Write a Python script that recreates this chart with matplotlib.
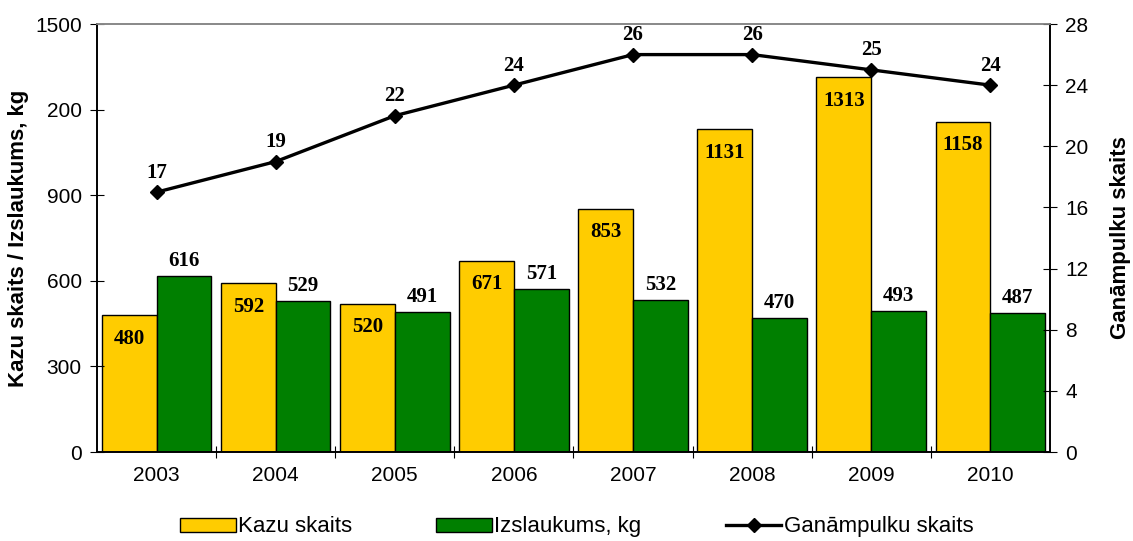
import numpy as np
import matplotlib
matplotlib.use("Agg")
import matplotlib.pyplot as plt

years = ["2003", "2004", "2005", "2006", "2007", "2008", "2009", "2010"]
kazu = [480, 592, 520, 671, 853, 1131, 1313, 1158]
izslaukums = [616, 529, 491, 571, 532, 470, 493, 487]
ganampulki = [17, 19, 22, 24, 26, 26, 25, 24]
left_ticks = [0, 300, 600, 900, 1200, 1500]
left_labels = ["0", "300", "600", "900", "200", "1500"]

plt.rcParams["font.family"] = ["Liberation Sans", "DejaVu Sans"]

fig = plt.figure(figsize=(11.33, 5.41), dpi=100)
ax = fig.add_axes([0.0856, 0.1645, 0.8411, 0.7911])
ax2 = ax.twinx()

x = np.arange(len(years))
w = 0.46
b1 = ax.bar(x - w / 2, kazu, w, color="#FFCC00", edgecolor="black", linewidth=1.0,
            label="Kazu skaits")
b2 = ax.bar(x + w / 2, izslaukums, w, color="#007F00", edgecolor="black", linewidth=1.0,
            label="Izslaukums, kg")

lab_font = dict(family=["Liberation Serif", "DejaVu Serif"], fontweight="bold", fontsize=15)
for xi, v in zip(x, kazu):
    ax.annotate(str(v), (xi - w / 2, v), xytext=(0, -17), textcoords="offset points",
                ha="center", va="center", **lab_font)
for xi, v in zip(x, izslaukums):
    ax.annotate(str(v), (xi + w / 2, v), xytext=(0, 11), textcoords="offset points",
                ha="center", va="center", **lab_font)

ln, = ax2.plot(x, ganampulki, color="black", marker="D", markersize=7, linewidth=2.4,
               label="Ganāmpulku skaits")
for xi, v in zip(x, ganampulki):
    ax2.annotate(str(v), (xi, v), xytext=(0, 14), textcoords="offset points",
                 ha="center", va="center", **lab_font)

ax.set_xlim(-0.5, len(years) - 0.5)
ax.set_ylim(0, 1500)
ax.set_yticks(left_ticks)
ax.set_yticklabels(left_labels)
ax2.set_ylim(0, 28)
ax2.set_yticks(range(0, 29, 4))

ax.set_xticks(np.arange(0.5, len(years) - 0.5, 1))
ax.set_xticklabels([])
ax.set_xticks(x, minor=True)
ax.set_xticklabels(years, minor=True)
ax.tick_params(axis="x", which="minor", length=0, labelsize=15, pad=10)
ax.tick_params(axis="x", which="major", direction="inout", length=8)
ax.tick_params(axis="y", direction="inout", length=10, labelsize=15, pad=6)
ax2.tick_params(axis="y", direction="inout", length=10, labelsize=15, pad=6)

ax.set_ylabel("Kazu skaits / Izslaukums, kg", fontsize=16, fontweight="bold")
ax.yaxis.set_label_coords(-0.071, 0.5)
ax2.set_ylabel("Ganāmpulku skaits", fontsize=16, fontweight="bold")
ax2.yaxis.set_label_coords(1.063, 0.5)

for a in (ax, ax2):
    for s in a.spines.values():
        s.set_linewidth(1.2)
    a.spines["top"].set_color("#888888")

fig.legend(handles=[b1, b2, ln], loc="center", bbox_to_anchor=(0.509, 0.026),
           ncol=3, frameon=False, fontsize=16, handlelength=2.5, handleheight=0.6,
           columnspacing=3.8, handletextpad=0.1)

fig.savefig("out.png", dpi=100)
